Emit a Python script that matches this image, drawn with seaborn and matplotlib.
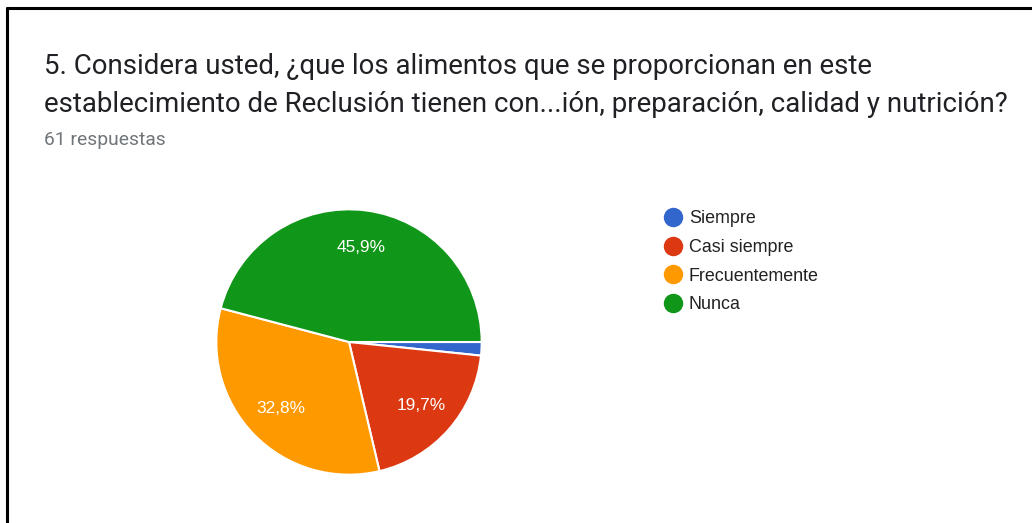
import matplotlib
matplotlib.use('Agg')
import matplotlib.pyplot as plt
from matplotlib.lines import Line2D
import seaborn as sns

# survey answers (61 respuestas)
categories = ['Siempre', 'Casi siempre', 'Frecuentemente', 'Nunca']
counts = [1, 12, 20, 28]
colors = ['#3366cc', '#dc3912', '#ff9900', '#109618']

title_lines = [
    '5. Considera usted, ¿que los alimentos que se proporcionan en este',
    'establecimiento de Reclusión tienen con...ión, preparación, calidad y nutrición?',
]
subtitle = '61 respuestas'

sns.set_style('white')
plt.rcParams['font.family'] = ['Roboto', 'DejaVu Sans']
chart_font = ['Liberation Sans', 'DejaVu Sans']  # google charts uses arial

W, H = 1032, 523
fig = plt.figure(figsize=(W / 100, H / 100), dpi=100)
fig.patch.set_facecolor('white')

# outer frame (left and top visible)
fig.add_artist(Line2D([7 / W, 7 / W], [0, 1 - 8 / H], color='black', lw=2.2))
fig.add_artist(Line2D([7 / W, 1], [1 - 8 / H, 1 - 8 / H], color='black', lw=2.2))

# title + subtitle
fig.text(44 / W, 1 - 66 / H, title_lines[0], fontsize=19.9, color='#202124', va='center')
fig.text(44 / W, 1 - 104 / H, title_lines[1], fontsize=19.9, color='#202124', va='center')
fig.text(44 / W, 1 - 140 / H, subtitle, fontsize=13.9, color='#70757a', va='center')

# pie
cx, cy, r = 349, 342, 134
ax = fig.add_axes([(cx - r) / W, 1 - (cy + r) / H, 2 * r / W, 2 * r / H])


def fmt(p):
    return (f'{p:.1f}%'.replace('.', ',')) if p >= 5 else ''


wedges, texts, autotexts = ax.pie(
    counts, colors=colors, startangle=0, counterclock=False,
    autopct=fmt, pctdistance=0.72,
    wedgeprops=dict(edgecolor='white', linewidth=1.5),
    textprops=dict(color='white', fontsize=12.4, family=chart_font),
)
ax.set_xlim(-1.01, 1.01)
ax.set_ylim(-1.01, 1.01)
ax.set_aspect('equal')

# legend
handles = [Line2D([], [], marker='o', ls='', markersize=13, markerfacecolor=c,
                  markeredgecolor=c) for c in colors]
fig.legend(handles, categories, loc='upper left', bbox_to_anchor=(661 / W, 1 - 210 / H),
           frameon=False, prop=dict(family=chart_font, size=12.9), labelcolor='#222222',
           handletextpad=0.25, labelspacing=0.66, handlelength=1.3, borderaxespad=0,
           borderpad=0)

fig.savefig('out.png', dpi=100, facecolor='white')
